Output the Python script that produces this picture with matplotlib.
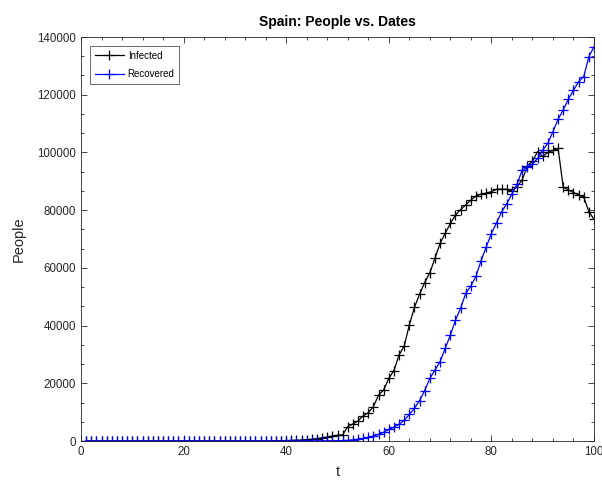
import numpy as np
import matplotlib
matplotlib.use('Agg')
import matplotlib.pyplot as plt
from matplotlib.ticker import MultipleLocator, AutoMinorLocator

# Spain: active infections and recoveries, day index 1..100
t = np.arange(1, 101)

infected = [
	0, 0, 0, 0, 0, 0, 0, 0, 0, 1,
	1, 1, 1, 1, 1, 1, 1, 1, 1, 2,
	2, 2, 2, 2, 2, 2, 2, 2, 2, 2,
	2, 2, 0, 0, 0, 10, 30, 60, 110, 150,
	190, 250, 350, 480, 600, 800, 1100, 1400, 1700, 2000,
	2100, 5000, 5900, 7000, 8700, 9800, 11900, 15900, 17700, 21700,
	24400, 29800, 32900, 40200, 46300, 50900, 54900, 58300, 63300, 68500,
	72000, 75400, 78300, 80200, 81800, 83500, 84900, 85600, 85900, 86400,
	87200, 87300, 87200, 86600, 88100, 90500, 95300, 96900, 100300, 98600,
	100000, 100700, 101400, 88000, 87000, 86100, 85300, 84500, 79500, 76800,
]

recovered = [
	0, 0, 0, 0, 0, 0, 0, 0, 0, 0,
	0, 0, 0, 0, 0, 0, 0, 0, 0, 0,
	0, 0, 0, 0, 0, 0, 0, 0, 0, 0,
	0, 0, 2, 2, 2, 2, 2, 2, 2, 2,
	2, 2, 30, 30, 30, 30, 30, 50, 80, 100,
	150, 200, 400, 600, 900, 1300, 1700, 2300, 3000, 4000,
	4800, 5800, 7200, 9200, 11300, 14000, 17500, 21700, 24600, 27500,
	32100, 36700, 41900, 46000, 51200, 53700, 57200, 62500, 67300, 71900,
	75600, 79400, 82300, 85600, 89000, 93900, 94800, 95900, 97900, 100800,
	103200, 107200, 111500, 114700, 118400, 121600, 124500, 126300, 133200, 136600,
]

plt.rcParams['font.family'] = ['Liberation Sans', 'DejaVu Sans']

axis_grey = '#262626'

fig = plt.figure(figsize=(6.02, 4.8), dpi=100)
ax = fig.add_axes([81/602, 39/480, 513/602, 404/480])

ax.plot(t, infected, color='k', marker='+', markersize=6.5, markeredgewidth=0.9,
		linewidth=0.9, label='Infected')
ax.plot(t, recovered, color=(0, 0, 1), marker='+', markersize=6.5, markeredgewidth=0.9,
		linewidth=0.9, label='Recovered')

ax.set_xlim(0, 100)
ax.set_ylim(0, 140000)
ax.xaxis.set_major_locator(MultipleLocator(20))
ax.yaxis.set_major_locator(MultipleLocator(20000))
ax.xaxis.set_minor_locator(AutoMinorLocator(5))
ax.yaxis.set_minor_locator(AutoMinorLocator(3))

ax.tick_params(which='both', direction='in', top=True, right=True,
			   colors=axis_grey, labelsize=8.3, width=0.6)
ax.tick_params(which='major', length=4.5)
ax.tick_params(which='minor', length=2.5)
for s in ax.spines.values():
	s.set_color(axis_grey)
	s.set_linewidth(0.6)

ax.set_xlabel('t', fontsize=10.5, color=axis_grey, labelpad=5)
ax.set_ylabel('People', fontsize=10.5, color=axis_grey, labelpad=8)
ax.set_title('Spain: People vs. Dates', fontsize=10, fontweight='bold', pad=8)

leg = ax.legend(loc='upper left', fontsize=7, frameon=True, fancybox=False,
				borderpad=0.5, handlelength=3.0, handletextpad=0.4,
				labelspacing=0.9, borderaxespad=0.9, edgecolor=axis_grey)
leg.get_frame().set_linewidth(0.6)

fig.savefig('out.png', dpi=100)
